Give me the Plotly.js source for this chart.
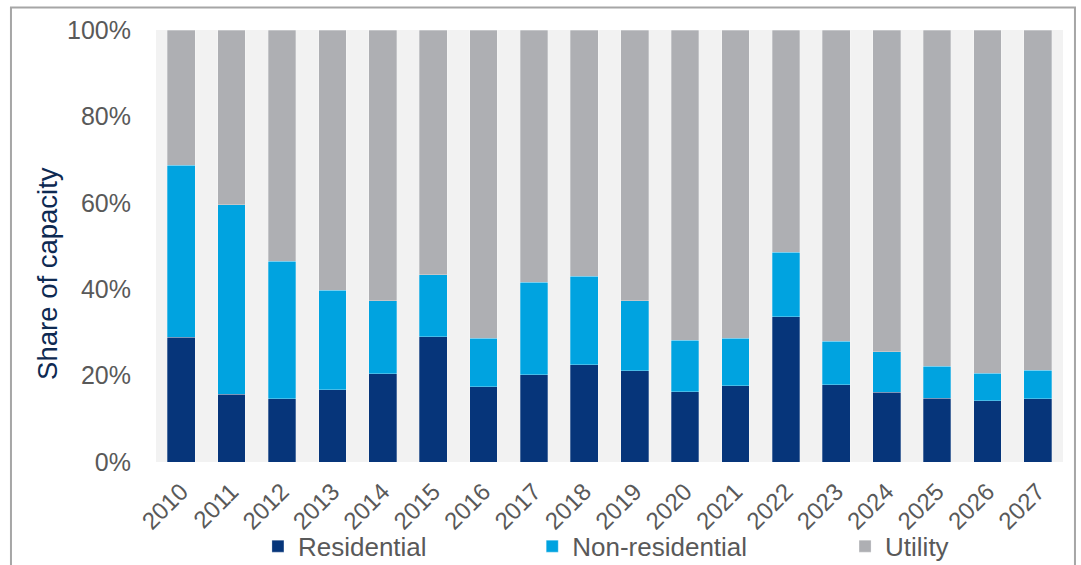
<!DOCTYPE html>
<html>
<head>
<meta charset="utf-8">
<script src="https://cdn.plot.ly/plotly-3.0.1.min.js"></script>
<style>
  html, body { margin: 0; padding: 0; background: #ffffff; }
  #chart { width: 1081px; height: 565px; }
</style>
</head>
<body>
<div id="chart"></div>
<script>
const years = ['2010','2011','2012','2013','2014','2015','2016','2017','2018','2019','2020','2021','2022','2023','2024','2025','2026','2027'];
const residential =    [28.9, 15.7, 14.7, 16.7, 20.4, 29.0, 17.4, 20.2, 22.5, 21.1, 16.3, 17.7, 33.6, 17.9, 16.1, 14.8, 14.2, 14.7];
const nonResidential = [39.8, 43.8, 31.8, 23.1, 16.9, 14.3, 11.2, 21.4, 20.5, 16.2, 11.9, 11.0, 15.0, 10.1,  9.4,  7.4,  6.4,  6.5];
const utility =        [31.3, 40.5, 53.5, 60.2, 62.7, 56.7, 71.4, 58.4, 57.0, 62.7, 71.8, 71.3, 51.4, 72.0, 74.5, 77.8, 79.4, 78.8];
const yTickVals = [0, 20, 40, 60, 80, 100];
const yTickText = ['0%', '20%', '40%', '60%', '80%', '100%'];
const yTitle = 'Share of capacity';

const FONT = 'Liberation Sans, Arial, sans-serif';
const GRAY = '#595959';

function barTrace(name, vals, color, legendId) {
  return {
    type: 'bar', name: name, x: years, y: vals,
    marker: { color: color, line: { color: 'rgba(255,255,255,0.35)', width: 0.8 } },
    legend: legendId,
    hoverinfo: 'x+y+name'
  };
}

const data = [
  barTrace('Residential', residential, '#06357A', 'legend'),
  barTrace('Non-residential', nonResidential, '#00A3E0', 'legend2'),
  barTrace('Utility', utility, '#AEAFB3', 'legend3')
];

const legendBase = {
  orientation: 'h', yanchor: 'middle', y: -0.195, xanchor: 'left',
  font: { family: FONT, size: 26, color: GRAY },
  bgcolor: 'rgba(0,0,0,0)', borderwidth: 0, itemwidth: 30,
  traceorder: 'normal'
};

const layout = {
  width: 1081, height: 565,
  margin: { l: 156, r: 18, t: 30, b: 103, pad: 0, autoexpand: false },
  paper_bgcolor: '#ffffff',
  plot_bgcolor: '#F2F2F2',
  barmode: 'stack',
  bargap: 0.45,
  showlegend: true,
  legend: Object.assign({}, legendBase, { x: 0.1124 }),
  legend2: Object.assign({}, legendBase, { x: 0.4148 }),
  legend3: Object.assign({}, legendBase, { x: 0.7597 }),
  xaxis: {
    type: 'category',
    tickangle: -45,
    tickfont: { family: FONT, size: 24, color: GRAY },
    showgrid: false, zeroline: false, showline: false,
    ticks: 'outside', ticklen: 5, tickcolor: 'rgba(0,0,0,0)'
  },
  yaxis: {
    range: [0, 100],
    tickvals: yTickVals, ticktext: yTickText,
    tickfont: { family: FONT, size: 25, color: GRAY },
    showgrid: false, zeroline: false, showline: false,
    ticks: 'outside', ticklen: 19, tickcolor: 'rgba(0,0,0,0)'
  },
  annotations: [{
    text: yTitle, textangle: -90, showarrow: false,
    xref: 'paper', yref: 'paper',
    x: (48 - 156) / 907, y: (461.7 - 273.5) / 432.2,
    xanchor: 'center', yanchor: 'middle',
    font: { family: FONT, size: 27.5, color: '#0E2A52' }
  }],
  shapes: [{
    type: 'rect', xref: 'paper', yref: 'paper',
    x0: -0.1599, x1: 1.0132, y0: -0.3, y1: 1.052,
    line: { color: '#A6A6A6', width: 2 }, fillcolor: 'rgba(0,0,0,0)', layer: 'below'
  }]
};

Plotly.newPlot('chart', data, layout, { displayModeBar: false, staticPlot: true });
</script>
</body>
</html>
